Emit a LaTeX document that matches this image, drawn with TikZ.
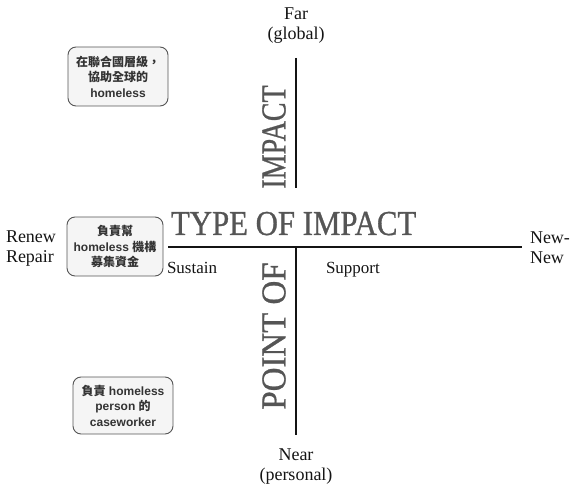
\documentclass[tikz,border=0pt]{standalone}
\usepackage{fontspec}
\setmainfont{Liberation Serif}
\newfontfamily\titelfont{Liberation Serif}[FakeBold=0.9]
\newfontfamily\boxfont{Liberation Sans}
\newfontfamily\cjk{Noto Sans CJK TC}
\newcommand{\zh}[1]{{\cjk #1}}
\definecolor{achse}{RGB}{20,20,20}
\definecolor{titel}{RGB}{85,85,85}
\definecolor{kasten}{RGB}{245,245,245}

\begin{document}
\begin{tikzpicture}[x=1pt, y=-1pt, achse, line width=2pt,
	pol/.style={align=center, font=\fontsize{18}{20}\selectfont, inner sep=0pt},
	titelschrift/.style={titel, inner sep=0pt, font=\titelfont\fontsize{35}{35}\selectfont},
	rolle/.style={draw=titel, fill=kasten, line width=0.9pt, rounded corners=8pt, align=center,
		inner sep=0pt, text=black!80, font=\boxfont\bfseries\fontsize{12}{15.5}\selectfont}]

	\useasboundingbox (0,0) rectangle (581,497);

	% Achsen
	\coordinate (links) at (168,247);
	\coordinate (rechts) at (522,247);
	\coordinate (oben) at (296,58);
	\coordinate (obenende) at (296,188);
	\coordinate (mitte) at (296,247);
	\coordinate (unten) at (296,435);

	\draw (links) -- (rechts);
	\draw (oben) -- (obenende);
	\draw (mitte) -- (unten);

	% Pole
	\node[pol] (far) at (296,26) {Far\\(global)};
	\node[pol] (near) at (296,467) {Near\\(personal)};
	\node[pol, align=left, anchor=west] (renew) at (5,249) {Renew\\Repair};
	\node[pol, align=left, anchor=west] (newnew) at (529,248) {New-\\New};
	\node[pol, anchor=base west, font=\fontsize{17}{17}\selectfont] (sustain) at (166,273) {Sustain};
	\node[pol, anchor=base west, font=\fontsize{17}{17}\selectfont] (support) at (325,273) {Support};

	% Titel
	\node[titelschrift, anchor=base west] (typ) at (170,235) {\scalebox{0.88}[1]{TYPE OF IMPACT}};
	\node[titelschrift, rotate=90] (impact) at (274,137) {\scalebox{0.8}[1]{IMPACT}};
	\node[titelschrift, rotate=90] (punkt) at (274,336) {\scalebox{0.94}[1]{POINT OF}};

	% Rollen
	\node[rolle, minimum width=100pt, minimum height=59pt] (global) at (118,76.5)
		{\zh{在聯合國層級，}\\\zh{協助全球的}\\homeless};
	\node[rolle, minimum width=96pt, minimum height=59pt] (mittel) at (115,246.5)
		{\zh{負責幫}\\homeless \zh{機構}\\\zh{募集資金}};
	\node[rolle, minimum width=100pt, minimum height=57pt] (person) at (123,405.5)
		{\zh{負責} homeless\\person \zh{的}\\caseworker};

\end{tikzpicture}
\end{document}
